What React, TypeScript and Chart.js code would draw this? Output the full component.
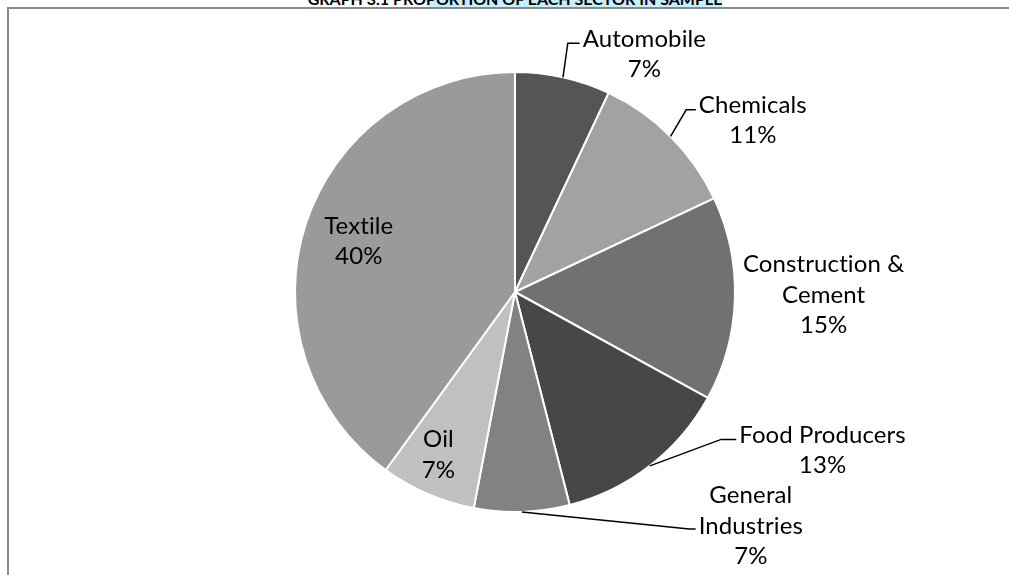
import React, { useEffect, useRef } from "react";
import { Chart, registerables } from "chart.js";

Chart.register(...registerables);

// ---- data ----
const titleLead = "GRAPH 3.1 PRO";
const titleRest = "PORTION OF EACH SECTOR IN SAMPLE";
const sectors = [
  "Automobile",
  "Chemicals",
  "Construction & Cement",
  "Food Producers",
  "General Industries",
  "Oil",
  "Textile",
];
const sectorLabelLines = [
  ["Automobile"],
  ["Chemicals"],
  ["Construction &", "Cement"],
  ["Food Producers"],
  ["General", "Industries"],
  ["Oil"],
  ["Textile"],
];
const shares = [7, 11, 15, 13, 7, 7, 40];

// ---- style ----
const sliceColors = ["#555555", "#a2a2a2", "#717171", "#474747", "#828282", "#c0c0c0", "#9a9a9a"];
// label block centre and leader-line elbow, in units of the pie radius relative to the pie centre
const labelPlacement: { dx: number; dy: number; elbow?: [number, number] }[] = [
  { dx: 0.588, dy: -1.08, elbow: [0.24, -1.131] },
  { dx: 1.081, dy: -0.78, elbow: [0.778, -0.828] },
  { dx: 1.403, dy: 0.014 },
  { dx: 1.398, dy: 0.72, elbow: [0.937, 0.67] },
  { dx: 1.072, dy: 1.063, elbow: [0.792, 1.077] },
  { dx: -0.348, dy: 0.74 },
  { dx: -0.71, dy: -0.231 },
];
const LABEL_FONT = "24px Lato";
const LINE_H = 30.5;

const labelPlugin = {
  id: "sectorLabels",
  afterDatasetsDraw(chart: any) {
    const ctx = chart.ctx as CanvasRenderingContext2D;
    const meta = chart.getDatasetMeta(0);
    ctx.save();
    ctx.font = LABEL_FONT;
    (ctx as any).letterSpacing = "0.1px";
    ctx.fillStyle = "#000";
    ctx.strokeStyle = "#000";
    ctx.lineWidth = 1.5;
    ctx.textAlign = "center";
    ctx.textBaseline = "middle";
    meta.data.forEach((arc: any, i: number) => {
      const { x, y, outerRadius, startAngle, endAngle } = arc.getProps(
        ["x", "y", "outerRadius", "startAngle", "endAngle"],
        true
      );
      const r = outerRadius;
      const mid = (startAngle + endAngle) / 2;
      const p = labelPlacement[i];
      const bx = x + p.dx * r;
      const by = y + p.dy * r;
      const lines = [...sectorLabelLines[i], `${shares[i]}%`];
      const maxW = Math.max(...lines.map((l) => ctx.measureText(l).width));
      const top = by - (lines.length * LINE_H) / 2;
      lines.forEach((l, j) => ctx.fillText(l, bx, top + LINE_H * (j + 0.5)));
      if (p.elbow) {
        const sx = x + Math.cos(mid) * r;
        const sy = y + Math.sin(mid) * r;
        const ex = x + p.elbow[0] * r;
        const ey = y + p.elbow[1] * r;
        ctx.beginPath();
        ctx.moveTo(sx, sy);
        ctx.lineTo(ex, ey);
        ctx.lineTo(bx - maxW / 2 - 3, ey);
        ctx.stroke();
      }
    });
    ctx.restore();
  },
};

export default function App() {
  const canvasRef = useRef<HTMLCanvasElement | null>(null);

  useEffect(() => {
    if (!canvasRef.current) return;
    const chart = new Chart(canvasRef.current, {
      type: "pie",
      data: {
        labels: sectors,
        datasets: [
          {
            data: shares,
            backgroundColor: sliceColors,
            borderColor: "#ffffff",
            borderWidth: 2,
          },
        ],
      },
      options: {
        responsive: false,
        animation: false,
        layout: { padding: { top: 71, bottom: 62, left: 294, right: 273 } },
        plugins: {
          legend: { display: false },
          tooltip: { enabled: false },
          title: { display: false },
        },
      },
      plugins: [labelPlugin],
    });
    return () => chart.destroy();
  }, []);

  return (
    <div
      style={{
        position: "fixed",
        left: 0,
        top: 0,
        width: 1009,
        height: 575,
        overflow: "hidden",
        background: "#fff",
      }}
    >
      <div
        style={{
          position: "absolute",
          left: 0,
          width: 1030,
          top: -9,
          textAlign: "center",
          font: "bold 16px Lato",
          lineHeight: "16px",
          whiteSpace: "nowrap",
          color: "#000",
        }}
      >
        {titleLead}
        <span style={{ background: "#c9effc" }}>{titleRest}</span>
      </div>
      <div
        style={{
          position: "absolute",
          left: 7,
          top: 7,
          width: 1100,
          height: 700,
          borderLeft: "2px solid #8a8a8a",
          borderTop: "2px solid #8a8a8a",
        }}
      />
      <canvas
        ref={canvasRef}
        width={1009}
        height={575}
        style={{ position: "absolute", left: 0, top: 0, width: 1009, height: 575 }}
      />
    </div>
  );
}
